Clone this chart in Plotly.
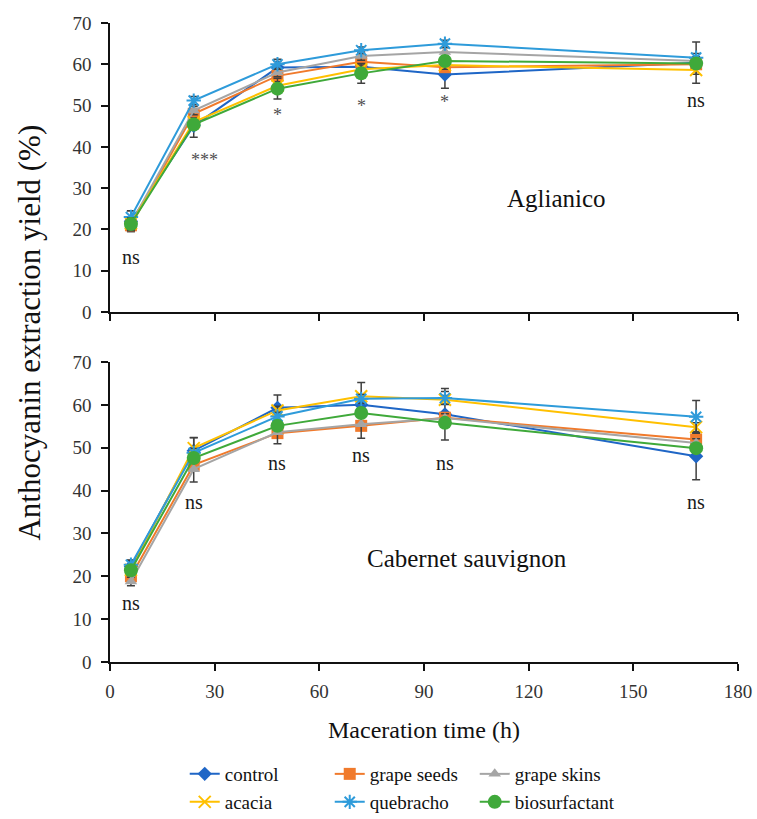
import plotly.graph_objects as go
from plotly.subplots import make_subplots

# ---- data ----
time_h = [6, 24, 48, 72, 96, 168]
series_names = ["control", "grape seeds", "grape skins", "acacia", "quebracho", "biosurfactant"]

# Aglianico
agl_control = [22.0, 45.1, 59.2, 59.4, 57.5, 60.4]
agl_seeds = [21.0, 48.0, 57.2, 60.6, 59.3, 60.0]
agl_skins = [21.5, 48.8, 58.0, 62.0, 63.0, 60.8]
agl_acacia = [21.5, 46.0, 54.8, 58.8, 59.8, 58.6]
agl_quebracho = [23.0, 51.2, 60.0, 63.4, 65.0, 61.6]
agl_bio = [21.3, 45.4, 54.1, 57.8, 60.8, 60.2]

agl_control_err = [2.5, 2.8, 1.5, 1.0, 3.3, 5.0]
agl_seeds_err = [1.5, 1.0, 1.0, 1.0, 1.0, 1.0]
agl_skins_err = [1.5, 1.0, 1.0, 1.0, 1.0, 1.0]
agl_acacia_err = [1.5, 1.0, 1.0, 1.0, 1.0, 1.0]
agl_quebracho_err = [1.5, 1.0, 1.2, 0.8, 0.8, 1.0]
agl_bio_err = [1.5, 1.0, 2.5, 2.4, 1.0, 1.0]

# Cabernet sauvignon
cab_control = [22.3, 49.3, 59.3, 60.0, 57.8, 48.0]
cab_seeds = [20.0, 46.0, 53.4, 55.1, 57.0, 51.9]
cab_skins = [18.8, 45.0, 53.6, 55.5, 56.9, 51.1]
cab_acacia = [21.5, 49.9, 58.7, 62.0, 61.2, 54.8]
cab_quebracho = [22.7, 48.8, 57.3, 61.4, 61.6, 57.2]
cab_bio = [21.4, 47.6, 55.1, 58.1, 55.8, 49.9]

cab_control_err = [1.5, 3.0, 3.0, 1.0, 6.0, 5.5]
cab_seeds_err = [1.0, 1.0, 1.0, 1.0, 1.0, 1.0]
cab_skins_err = [1.0, 3.0, 2.7, 3.3, 1.0, 1.0]
cab_acacia_err = [1.0, 2.5, 1.0, 3.2, 1.0, 1.0]
cab_quebracho_err = [1.0, 1.0, 1.0, 1.0, 1.5, 3.8]
cab_bio_err = [1.0, 1.0, 1.0, 1.0, 1.0, 1.0]

agl_sig = ["ns", "***", "*", "*", "*", "ns"]
agl_sig_x = [6, 27, 48, 72, 96, 168]
agl_sig_y = [13.3, 36.8, 47.7, 50.0, 50.8, 51.3]

cab_sig = ["ns", "ns", "ns", "ns", "ns", "ns"]
cab_sig_x = [6, 24, 48, 72, 96, 168]
cab_sig_y = [13.8, 37.3, 46.4, 48.3, 46.4, 37.3]

x_ticks = [0, 30, 60, 90, 120, 150, 180]
y_ticks = [0, 10, 20, 30, 40, 50, 60, 70]

# ---- styles ----
colors = ["#1F66C6", "#F07A2C", "#A5A5A5", "#FFC000", "#2E9BDA", "#3FA93A"]
symbols = ["diamond", "square", "triangle-up", "x-thin", "asterisk", "circle"]
msizes = [11, 12, 11, 12, 12, 14]
serif = "Liberation Serif, Times New Roman, serif"
err_col = "#404040"

agl = [agl_control, agl_seeds, agl_skins, agl_acacia, agl_quebracho, agl_bio]
agl_err = [agl_control_err, agl_seeds_err, agl_skins_err, agl_acacia_err, agl_quebracho_err, agl_bio_err]
cab = [cab_control, cab_seeds, cab_skins, cab_acacia, cab_quebracho, cab_bio]
cab_err = [cab_control_err, cab_seeds_err, cab_skins_err, cab_acacia_err, cab_quebracho_err, cab_bio_err]

fig = make_subplots(rows=2, cols=1)

for row, data, errs in [(1, agl, agl_err), (2, cab, cab_err)]:
    for i, name in enumerate(series_names):
        open_sym = symbols[i] in ("x-thin", "asterisk")
        marker = dict(symbol=symbols[i], size=msizes[i], color=colors[i])
        if open_sym:
            marker["line"] = dict(color=colors[i], width=2)
        fig.add_trace(
            go.Scatter(
                x=time_h, y=data[i], name=name, mode="lines+markers",
                line=dict(color=colors[i], width=2),
                marker=marker,
                error_y=dict(type="data", array=errs[i], color=err_col, thickness=1.5, width=4),
                legend="legend" if i < 3 else "legend2",
                showlegend=(row == 1),
            ),
            row=row, col=1,
        )

for xs, ys, txts, ax in [(agl_sig_x, agl_sig_y, agl_sig, "1"), (cab_sig_x, cab_sig_y, cab_sig, "2")]:
    for x, y, t in zip(xs, ys, txts):
        fig.add_annotation(
            x=x, y=y, xref="x" + ("" if ax == "1" else ax), yref="y" + ("" if ax == "1" else ax),
            text=t, showarrow=False,
            font=dict(family=serif, size=20 if t == "ns" else 18, color="#505050" if "*" in t else "#1a1a1a"),
        )

fig.add_annotation(x=128, y=27.6, xref="x", yref="y", text="Aglianico", showarrow=False,
                   font=dict(family=serif, size=25, color="#111111"))
fig.add_annotation(x=102.4, y=24.2, xref="x2", yref="y2", text="Cabernet sauvignon", showarrow=False,
                   font=dict(family=serif, size=25, color="#111111"))

fig.add_annotation(x=-0.128, y=0.515, xref="paper", yref="paper", text="Anthocyanin extraction yield (%)",
                   textangle=-90, showarrow=False, xanchor="center", yanchor="middle",
                   font=dict(family=serif, size=31, color="#111111"))
fig.add_annotation(x=0.5, y=-0.1064, xref="paper", yref="paper", text="Maceration time (h)",
                   showarrow=False, xanchor="center", yanchor="middle",
                   font=dict(family=serif, size=24, color="#111111"))

axis_common = dict(showline=True, linecolor="#111111", linewidth=1.5, ticks="outside",
                   ticklen=7, tickwidth=1.5, tickcolor="#111111", showgrid=False, zeroline=False,
                   tickfont=dict(family=serif, size=19, color="#333333"), ticklabeloverflow="allow",
                   automargin=False)

fig.update_xaxes(range=[0, 180], tickvals=x_ticks, ticklabelstandoff=4, **axis_common)
fig.update_xaxes(showticklabels=False, row=1, col=1)
fig.update_yaxes(range=[0, 70], tickvals=y_ticks, ticklabelstandoff=6, **axis_common)

legend_common = dict(orientation="h", xanchor="left", yanchor="middle",
                     entrywidth=100, entrywidthmode="pixels", tracegroupgap=0,
                     font=dict(family=serif, size=19, color="#111111"), bgcolor="rgba(0,0,0,0)")

fig.update_layout(
    width=757, height=819,
    margin=dict(l=110, r=19, t=23, b=157, autoexpand=False),
    plot_bgcolor="white", paper_bgcolor="white",
    showlegend=True,
    xaxis=dict(domain=[0, 1], anchor="y"),
    yaxis=dict(domain=[0.5477, 1.0]),
    xaxis2=dict(domain=[0, 1], anchor="y2"),
    yaxis2=dict(domain=[0.0, 0.4695]),
    legend=dict(x=0.119, y=-0.1753, **legend_common),
    legend2=dict(x=0.119, y=-0.2191, **legend_common),
)

fig.write_html(
    "out.html",
    config={"displayModeBar": False},
    post_script="document.body.style.margin='0';document.body.style.overflow='hidden';",
)
